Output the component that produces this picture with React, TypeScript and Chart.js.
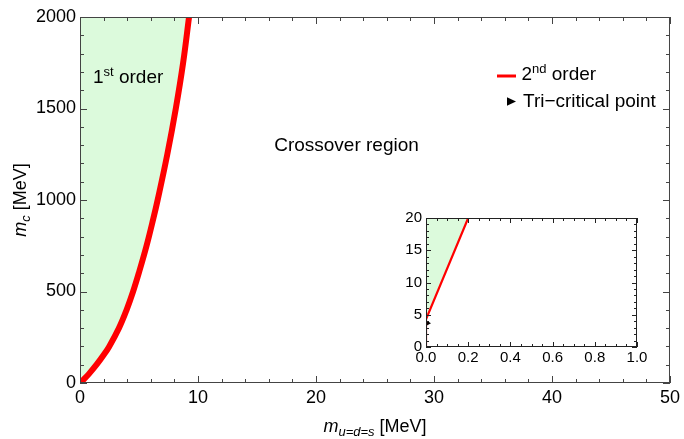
import React, { useEffect, useRef } from "react";
import { Chart, registerables } from "chart.js";

Chart.register(...registerables);

// ---- data ----
const mainMassUDS = [0, 0.4, 0.76, 1.4, 1.97, 2.48, 3.3, 3.95, 4.5, 4.98, 5.64, 6.22, 6.58, 7.4, 8.12, 8.74, 9.24];
const mainMassC = [0, 25, 50, 100, 150, 200, 300, 400, 500, 600, 750, 900, 1000, 1250, 1500, 1750, 2000];
const insetMassUDS = [0, 0, 0.2];
const insetMassC = [0, 4.3, 20];
const triCriticalUDS = [0];
const triCriticalC = [3.7];
const mainXTicks = [0, 10, 20, 30, 40, 50];
const mainYTicks = [0, 500, 1000, 1500, 2000];
const insetXTicks = [0, 0.2, 0.4, 0.6, 0.8, 1.0];
const insetYTicks = [0, 5, 10, 15, 20];

const FONT = '"Liberation Sans", Arial, Helvetica, sans-serif';
const GREEN = "rgb(220, 250, 220)";
const RED = "#ff0000";

type Part = { t: string; size: number; italic?: boolean; dy?: number };

function fontOf(p: Part) {
  return `${p.italic ? "italic " : ""}${p.size}px ${FONT}`;
}

function drawRich(ctx: CanvasRenderingContext2D, parts: Part[], x: number, y: number, align: "left" | "center") {
  let w = 0;
  for (const p of parts) {
    ctx.font = fontOf(p);
    w += ctx.measureText(p.t).width;
  }
  let cx = align === "center" ? x - w / 2 : x;
  ctx.textAlign = "left";
  ctx.textBaseline = "alphabetic";
  ctx.fillStyle = "#000";
  for (const p of parts) {
    ctx.font = fontOf(p);
    ctx.fillText(p.t, cx, y + (p.dy || 0));
    cx += ctx.measureText(p.t).width;
  }
}

type FrameCfg = {
  xMinor: number;
  yMinor: number;
  xMajor: number;
  yMajor: number;
  majorLen: number;
  minorLen: number;
  color: string;
};

function framePlugin(id: string, cfg: FrameCfg, extra?: (chart: any) => void) {
  return {
    id,
    afterDraw(chart: any) {
      const ctx: CanvasRenderingContext2D = chart.ctx;
      const { left, right, top, bottom } = chart.chartArea;
      const xs = chart.scales.x;
      const ys = chart.scales.y;
      ctx.save();
      ctx.strokeStyle = cfg.color;
      ctx.lineWidth = 1;
      ctx.strokeRect(left + 0.5, top + 0.5, right - left - 1, bottom - top - 1);
      ctx.beginPath();
      const nx = Math.round((xs.max - xs.min) / cfg.xMinor);
      const ratioX = Math.round(cfg.xMajor / cfg.xMinor);
      for (let i = 0; i <= nx; i++) {
        const v = xs.min + i * cfg.xMinor;
        const px = Math.round(xs.getPixelForValue(v)) + 0.5;
        const len = i % ratioX === 0 ? cfg.majorLen : cfg.minorLen;
        ctx.moveTo(px, bottom);
        ctx.lineTo(px, bottom - len);
        ctx.moveTo(px, top);
        ctx.lineTo(px, top + len);
      }
      const ny = Math.round((ys.max - ys.min) / cfg.yMinor);
      const ratioY = Math.round(cfg.yMajor / cfg.yMinor);
      for (let i = 0; i <= ny; i++) {
        const v = ys.min + i * cfg.yMinor;
        const py = Math.round(ys.getPixelForValue(v)) + 0.5;
        const len = i % ratioY === 0 ? cfg.majorLen : cfg.minorLen;
        ctx.moveTo(left, py);
        ctx.lineTo(left + len, py);
        ctx.moveTo(right, py);
        ctx.lineTo(right - len, py);
      }
      ctx.stroke();
      ctx.restore();
      if (extra) {
        ctx.save();
        extra(chart);
        ctx.restore();
      }
    },
  };
}

function mainAnnotations(chart: any) {
  const ctx: CanvasRenderingContext2D = chart.ctx;
  // axis titles
  drawRich(
    ctx,
    [
      { t: "m", size: 18, italic: true },
      { t: "u=d=s", size: 13, italic: true, dy: 4 },
      { t: " [MeV]", size: 18 },
    ],
    (chart.chartArea.left + chart.chartArea.right) / 2,
    432,
    "center"
  );
  ctx.save();
  ctx.translate(26, (chart.chartArea.top + chart.chartArea.bottom) / 2);
  ctx.rotate(-Math.PI / 2);
  drawRich(
    ctx,
    [
      { t: "m", size: 18, italic: true },
      { t: "c", size: 13, italic: true, dy: 4 },
      { t: " [MeV]", size: 18 },
    ],
    0,
    0,
    "center"
  );
  ctx.restore();
  // region labels
  drawRich(
    ctx,
    [
      { t: "1", size: 19 },
      { t: "st", size: 13, dy: -7 },
      { t: " order", size: 19 },
    ],
    93,
    83,
    "left"
  );
  drawRich(ctx, [{ t: "Crossover region", size: 19 }], 346.5, 151, "center");
  // legend
  ctx.strokeStyle = RED;
  ctx.lineWidth = 3;
  ctx.beginPath();
  ctx.moveTo(497, 76);
  ctx.lineTo(516, 76);
  ctx.stroke();
  drawRich(
    ctx,
    [
      { t: "2", size: 19 },
      { t: "nd", size: 13, dy: -7 },
      { t: " order", size: 19 },
    ],
    521.5,
    80,
    "left"
  );
  ctx.fillStyle = "#000";
  ctx.beginPath();
  ctx.moveTo(507, 97.3);
  ctx.lineTo(507, 105.7);
  ctx.lineTo(516, 101.5);
  ctx.closePath();
  ctx.fill();
  drawRich(ctx, [{ t: "Tri\u2212critical point", size: 19 }], 523, 107, "left");
}

export default function App() {
  const mainRef = useRef<HTMLCanvasElement | null>(null);
  const insetRef = useRef<HTMLCanvasElement | null>(null);

  useEffect(() => {
    document.body.style.margin = "0";
    const mainCanvas = mainRef.current!;
    const insetCanvas = insetRef.current!;

    const tickFont = { family: FONT, size: 18 };
    const mainChart = new Chart(mainCanvas, {
      type: "line",
      data: {
        datasets: [
          {
            data: mainMassUDS.map((x, i) => ({ x, y: mainMassC[i] })),
            borderColor: RED,
            borderWidth: 6,
            pointRadius: 0,
            fill: "end",
            backgroundColor: GREEN,
            tension: 0.4,
            clip: 0,
          } as any,
        ],
      },
      options: {
        responsive: false,
        animation: false,
        events: [],
        layout: { padding: { left: 0, top: 17, right: 11, bottom: 0 } },
        plugins: { legend: { display: false }, tooltip: { enabled: false } },
        scales: {
          x: {
            type: "linear",
            min: 0,
            max: 50,
            grid: { display: false, drawTicks: false },
            border: { display: false },
            afterBuildTicks: (s: any) => {
              s.ticks = mainXTicks.map((v) => ({ value: v }));
            },
            afterFit: (s: any) => {
              s.height = 56;
            },
            ticks: { font: tickFont, color: "#000", padding: 4, maxRotation: 0, callback: (v: any) => String(v) },
          },
          y: {
            type: "linear",
            min: 0,
            max: 2000,
            grid: { display: false, drawTicks: false },
            border: { display: false },
            afterBuildTicks: (s: any) => {
              s.ticks = mainYTicks.map((v) => ({ value: v }));
            },
            afterFit: (s: any) => {
              s.width = 80;
            },
            ticks: { font: tickFont, color: "#000", padding: 4, callback: (v: any) => String(v) },
          },
        },
      } as any,
      plugins: [
        framePlugin(
          "mainFrame",
          { xMinor: 2, yMinor: 100, xMajor: 10, yMajor: 500, majorLen: 7, minorLen: 4, color: "#444" },
          mainAnnotations
        ),
      ],
    });

    const insetFont = { family: FONT, size: 15 };
    const insetChart = new Chart(insetCanvas, {
      type: "line",
      data: {
        datasets: [
          {
            data: insetMassUDS.map((x, i) => ({ x, y: insetMassC[i] })),
            borderColor: RED,
            borderWidth: 2.2,
            pointRadius: 0,
            fill: "end",
            backgroundColor: GREEN,
            tension: 0,
            clip: 0,
          } as any,
          {
            data: triCriticalUDS.map((x, i) => ({ x, y: triCriticalC[i] })),
            showLine: false,
            pointStyle: "triangle",
            rotation: 90,
            pointRadius: 5,
            pointBackgroundColor: "#000",
            pointBorderColor: "#000",
            pointBorderWidth: 0,
            clip: 0,
          } as any,
        ],
      },
      options: {
        responsive: false,
        animation: false,
        events: [],
        layout: { padding: { left: 0, top: 12, right: 13, bottom: 0 } },
        plugins: { legend: { display: false }, tooltip: { enabled: false } },
        scales: {
          x: {
            type: "linear",
            min: 0,
            max: 1,
            grid: { display: false, drawTicks: false },
            border: { display: false },
            afterBuildTicks: (s: any) => {
              s.ticks = insetXTicks.map((v) => ({ value: v }));
            },
            afterFit: (s: any) => {
              s.height = 30;
            },
            ticks: { font: insetFont, color: "#000", padding: 2, maxRotation: 0, callback: (v: any) => Number(v).toFixed(1) },
          },
          y: {
            type: "linear",
            min: 0,
            max: 20,
            grid: { display: false, drawTicks: false },
            border: { display: false },
            afterBuildTicks: (s: any) => {
              s.ticks = insetYTicks.map((v) => ({ value: v }));
            },
            afterFit: (s: any) => {
              s.width = 31;
            },
            ticks: { font: insetFont, color: "#000", padding: 4, callback: (v: any) => String(v) },
          },
        },
      } as any,
      plugins: [
        framePlugin("insetFrame", {
          xMinor: 0.05,
          yMinor: 1,
          xMajor: 0.2,
          yMajor: 5,
          majorLen: 5,
          minorLen: 3,
          color: "#222",
        }),
      ],
    });

    return () => {
      mainChart.destroy();
      insetChart.destroy();
    };
  }, []);

  return (
    <div style={{ position: "fixed", left: 0, top: 0, width: 684, height: 439, background: "#fff" }}>
      <canvas ref={mainRef} width={684} height={439} style={{ position: "absolute", left: 0, top: 0, display: "block" }} />
      <canvas ref={insetRef} width={255} height={172} style={{ position: "absolute", left: 395, top: 205, display: "block" }} />
    </div>
  );
}
